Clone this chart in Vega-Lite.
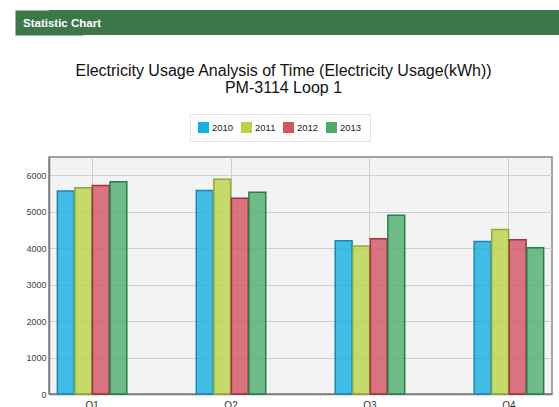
{
  "$schema": "https://vega.github.io/schema/vega-lite/v6.json",
  "padding": {"left": 14, "top": 10, "right": 0, "bottom": 0},
  "background": "white",
  "spacing": 26,
  "config": {"font": "Liberation Sans", "view": {"stroke": null}},
  "vconcat": [
    {
      "width": 511,
      "height": 25,
      "data": {"values": [{"panel": "header"}]},
      "view": {"fill": "#3b7747", "stroke": null},
      "title": {"text": "Statistic Chart", "orient": "bottom", "anchor": "start", "frame": "bounds", "offset": -17, "baseline": "top", "dx": 8, "color": "white", "fontSize": 11.5, "fontWeight": "bold", "zindex": 2},
      "mark": {"type": "rect", "color": "#3b7747"},
      "encoding": {
        "y": {"field": "panel", "type": "nominal", "scale": {"paddingInner": 0, "paddingOuter": 0},
              "axis": {"title": null, "labels": false, "ticks": false, "grid": false, "domain": true, "domainColor": "#3b7747", "domainWidth": 68, "domainCap": "butt", "minExtent": 34, "maxExtent": 34, "zindex": 0}}
      }
    },
    {
      "resolve": {"legend": {"fill": "independent", "stroke": "independent"}},
      "hconcat": [
        {
          "width": 503,
          "height": 237,
          "data": {"values": [
            {"quarter": "Q1", "year": "2010", "usage": 5570},
            {"quarter": "Q1", "year": "2011", "usage": 5660},
            {"quarter": "Q1", "year": "2012", "usage": 5720},
            {"quarter": "Q1", "year": "2013", "usage": 5820},
            {"quarter": "Q2", "year": "2010", "usage": 5580},
            {"quarter": "Q2", "year": "2011", "usage": 5890},
            {"quarter": "Q2", "year": "2012", "usage": 5370},
            {"quarter": "Q2", "year": "2013", "usage": 5530},
            {"quarter": "Q3", "year": "2010", "usage": 4200},
            {"quarter": "Q3", "year": "2011", "usage": 4060},
            {"quarter": "Q3", "year": "2012", "usage": 4260},
            {"quarter": "Q3", "year": "2013", "usage": 4900},
            {"quarter": "Q4", "year": "2010", "usage": 4180},
            {"quarter": "Q4", "year": "2011", "usage": 4510},
            {"quarter": "Q4", "year": "2012", "usage": 4230},
            {"quarter": "Q4", "year": "2013", "usage": 4010}
          ]},
          "view": {"fill": "#f3f3f3", "stroke": "#858585", "strokeWidth": 1.5},
          "title": {"text": ["Electricity Usage Analysis of Time (Electricity Usage(kWh))", "PM-3114 Loop 1"], "fontSize": 16, "fontWeight": "normal", "color": "#111111", "lineHeight": 17, "anchor": "middle", "frame": "bounds", "offset": 18},
          "mark": {"type": "bar", "fillOpacity": 0.8, "strokeWidth": 1.5},
          "encoding": {
            "x": {"field": "quarter", "type": "nominal", "scale": {"paddingInner": 0.5, "paddingOuter": 0.06},
                  "axis": {"title": null, "labelAngle": 0, "labelFontSize": 10, "labelColor": "#333333", "labelPadding": 6, "ticks": false, "grid": true, "bandPosition": 0.5, "gridColor": "#cfcfcf", "gridWidth": 1, "domainColor": "#7a7a7a", "domainWidth": 1.5}},
            "xOffset": {"field": "year", "type": "nominal", "scale": {"paddingInner": 0.04}},
            "y": {"field": "usage", "type": "quantitative", "scale": {"domain": [0, 6500], "nice": false},
                  "axis": {"title": null, "values": [0, 1000, 2000, 3000, 4000, 5000, 6000], "format": "d", "labelFontSize": 9, "labelColor": "#444444", "labelPadding": 3, "ticks": false, "minExtent": 34, "gridColor": "#cfcfcf", "gridWidth": 1, "domainColor": "#7a7a7a", "domainWidth": 1.5}},
            "fill": {"field": "year", "type": "nominal", "scale": {"range": ["#12afe2", "#b9d349", "#d25362", "#4eac6b"]},
                     "legend": {"title": null, "orient": "none", "legendX": 141, "legendY": -43, "direction": "horizontal", "symbolType": "square", "symbolSize": 121, "symbolOpacity": 1, "symbolStrokeWidth": 0, "labelFontSize": 9.5, "labelColor": "#222222", "labelOffset": 3, "columnPadding": 7, "padding": 8, "fillColor": "white", "strokeColor": "#e4e4e4"}},
            "stroke": {"field": "year", "type": "nominal", "scale": {"range": ["#1a86b5", "#8fab36", "#a3323e", "#22804a"]}, "legend": null}
          }
        }
      ]
    }
  ]
}
